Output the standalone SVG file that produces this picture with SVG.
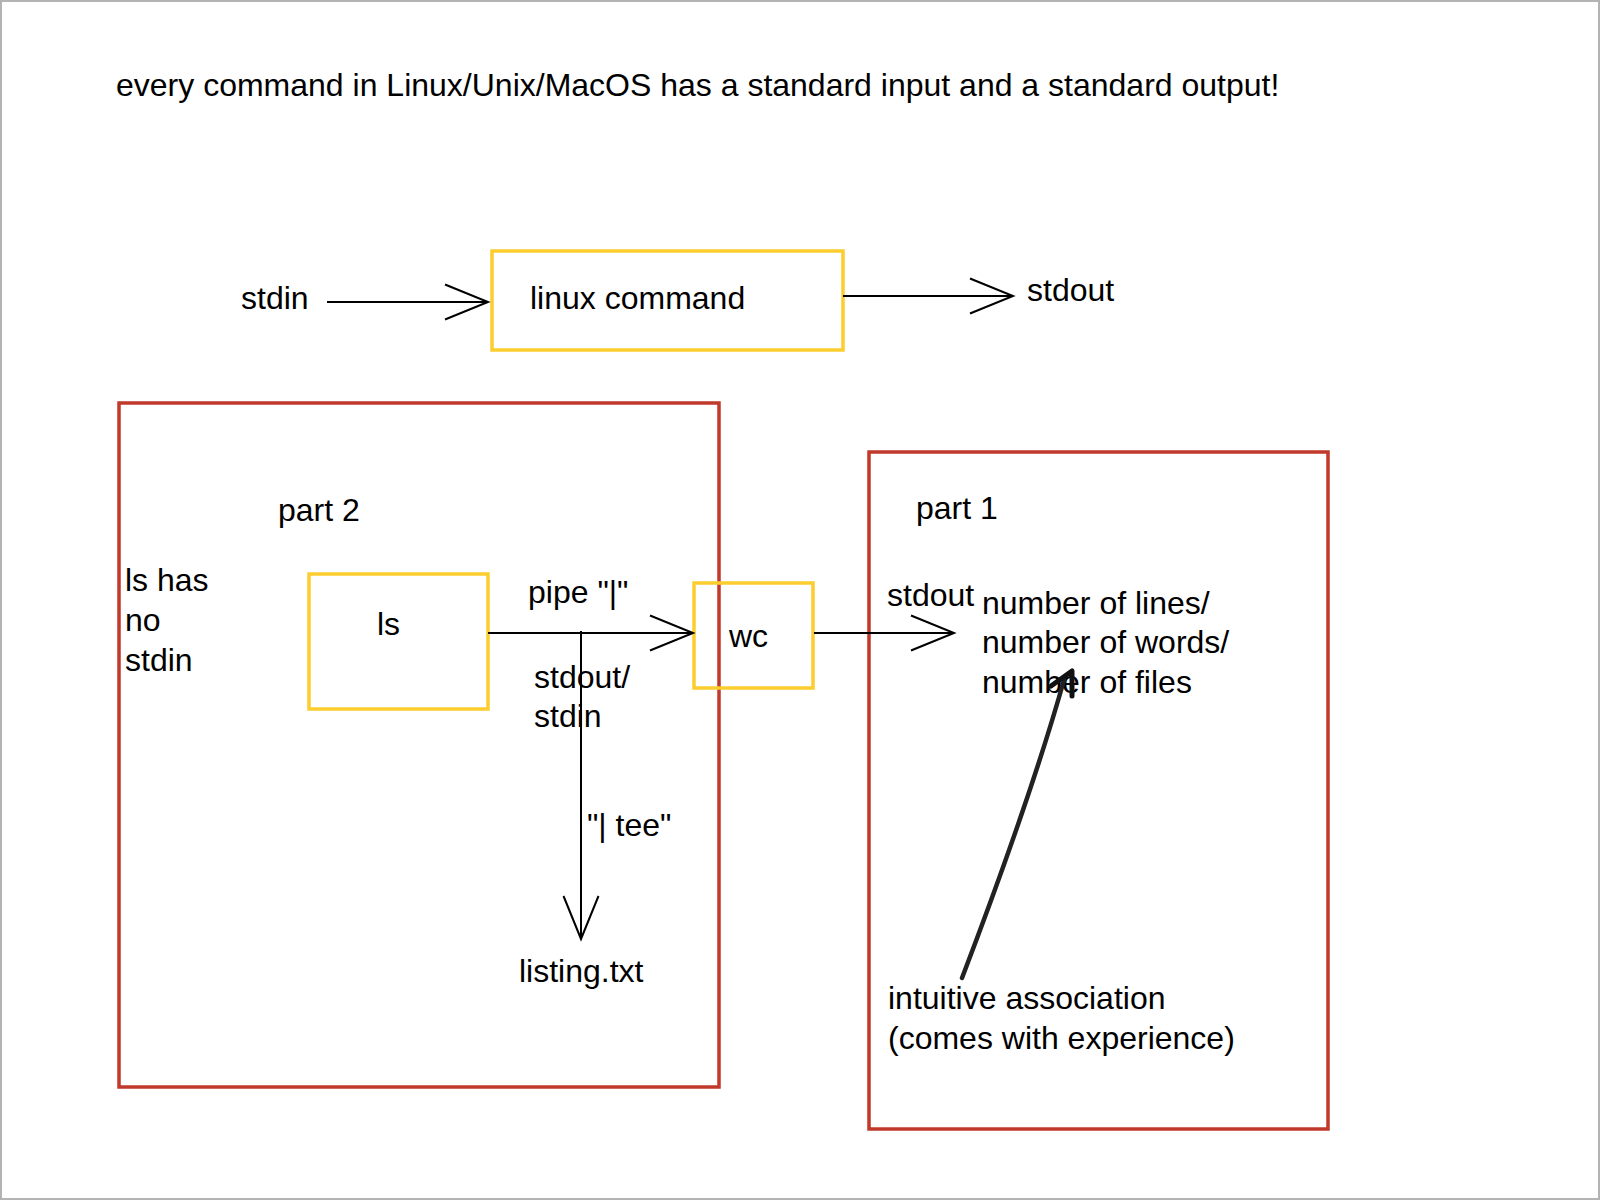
<svg xmlns="http://www.w3.org/2000/svg" width="1601" height="1201" viewBox="0 0 1601 1201">
<style>
text{font-family:"Liberation Sans",Arial,sans-serif;font-size:32px;fill:#000}
.y{fill:none;stroke:#fbcd2e;stroke-width:3.5}
.r{fill:none;stroke:#c0392b;stroke-width:3.5}
.c{fill:none;stroke:#000;stroke-width:2}
</style>
<defs>
<marker id="open" markerUnits="userSpaceOnUse" markerWidth="60" markerHeight="60" refX="0" refY="0" orient="auto" overflow="visible">
<path d="M-43,-17.5 L0,0 L-43,17.5" fill="none" stroke="#000" stroke-width="2"/>
</marker>
</defs>
<rect x="1" y="1" width="1598" height="1198" fill="#fff" stroke="#b3b3b3" stroke-width="2"/>
<text x="116" y="96">every command in Linux/Unix/MacOS has a standard input and a standard output!</text>
<g id="part2">
<rect class="r" x="119" y="403" width="600" height="684"/>
<text x="278" y="521">part 2</text>
<text x="125" y="591"><tspan x="125" y="591">ls has</tspan><tspan x="125" y="631">no</tspan><tspan x="125" y="671">stdin</tspan></text>
</g>
<g id="part1">
<rect class="r" x="869" y="452" width="459" height="677"/>
<text x="916" y="519">part 1</text>
</g>
<g id="linux-command">
<rect class="y" x="492" y="251" width="351" height="99"/>
<text x="530" y="309">linux command</text>
</g>
<g id="stdin-label"><text x="241" y="309">stdin</text></g>
<g id="stdout-label"><text x="1027" y="301">stdout</text></g>
<g id="ls">
<rect class="y" x="309" y="574" width="179" height="135"/>
<text x="377" y="635">ls</text>
</g>
<g id="wc">
<rect class="y" x="694" y="583" width="119" height="105"/>
<text x="729" y="647">wc</text>
</g>
<g id="listing"><text x="519" y="982">listing.txt</text></g>
<g id="result">
<text x="982" y="614"><tspan x="982" y="614">number of lines/</tspan><tspan x="982" y="653">number of words/</tspan><tspan x="982" y="693">number of files</tspan></text>
</g>
<g id="intuitive">
<text x="888" y="1009"><tspan x="888" y="1009">intuitive association</tspan><tspan x="888" y="1049">(comes with experience)</tspan></text>
</g>
<g id="connectors">
<path class="c" d="M327,302 L488,302" marker-end="url(#open)"/>
<path class="c" d="M843,296 L1013,296" marker-end="url(#open)"/>
<path class="c" d="M488,633 L693,633" marker-end="url(#open)"/>
<path class="c" d="M814,633 L954,633" marker-end="url(#open)"/>
<path class="c" d="M581,631 L581,939" marker-end="url(#open)"/>
<text x="528" y="603">pipe "|"</text>
<text x="534" y="688"><tspan x="534" y="688">stdout/</tspan><tspan x="534" y="727">stdin</tspan></text>
<text x="887" y="606">stdout</text>
<text x="587" y="836">"| tee"</text>
<path d="M962,978 Q1030,800 1064,680" fill="none" stroke="#222" stroke-width="4.5" stroke-linecap="round"/>
<path d="M1051,686 L1072,671 L1072,696" fill="none" stroke="#111" stroke-width="5" stroke-linecap="round" stroke-linejoin="round"/>
</g>
</svg>
